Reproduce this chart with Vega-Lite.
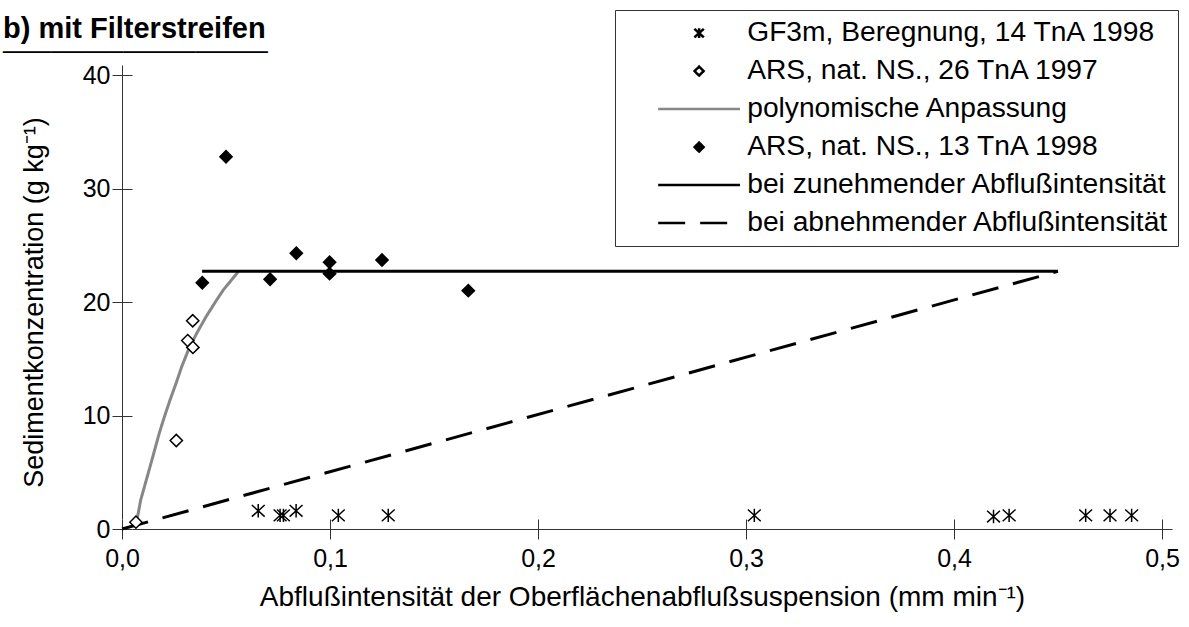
{
  "$schema": "https://vega.github.io/schema/vega-lite/v6.json",
  "width": 1040,
  "height": 454,
  "autosize": {"type": "none"},
  "padding": {"left": 122, "top": 75, "right": 27, "bottom": 98},
  "background": "white",
  "title": {
    "text": "b) mit Filterstreifen",
    "subtitle": "──────────────────────",
    "anchor": "start",
    "frame": "group",
    "dx": -119,
    "offset": -53,
    "font": "Liberation Sans",
    "fontSize": 29,
    "fontWeight": "bold",
    "color": "black",
    "subtitleFont": "DejaVu Sans",
    "subtitleFontSize": 20,
    "subtitleColor": "black",
    "subtitlePadding": -1
  },
  "config": {
    "view": {"stroke": null},
    "font": "Liberation Sans",
    "axis": {
      "domain": false,
      "grid": true,
      "gridColor": "#333333",
      "gridWidth": 1,
      "offset": -10,
      "ticks": true,
      "tickSize": 20,
      "tickColor": "#333333",
      "tickWidth": 1,
      "labelFont": "Liberation Sans",
      "labelFontSize": 25,
      "labelColor": "black",
      "labelFlush": false,
      "labelOverlap": false,
      "titleFont": "Liberation Sans",
      "titleFontWeight": "normal",
      "titleColor": "black"
    }
  },
  "datasets": {
    "curves": [
      {"series": "polynomische Anpassung", "x": 0.007, "y": 0.6},
      {"series": "polynomische Anpassung", "x": 0.009, "y": 2.56},
      {"series": "polynomische Anpassung", "x": 0.0135, "y": 5.5},
      {"series": "polynomische Anpassung", "x": 0.0179, "y": 8.43},
      {"series": "polynomische Anpassung", "x": 0.0204, "y": 9.9},
      {"series": "polynomische Anpassung", "x": 0.0231, "y": 11.37},
      {"series": "polynomische Anpassung", "x": 0.026, "y": 12.84},
      {"series": "polynomische Anpassung", "x": 0.0287, "y": 14.3},
      {"series": "polynomische Anpassung", "x": 0.0319, "y": 15.77},
      {"series": "polynomische Anpassung", "x": 0.0359, "y": 17.24},
      {"series": "polynomische Anpassung", "x": 0.0404, "y": 18.7},
      {"series": "polynomische Anpassung", "x": 0.0455, "y": 20.18},
      {"series": "polynomische Anpassung", "x": 0.0487, "y": 21.06},
      {"series": "polynomische Anpassung", "x": 0.0559, "y": 22.67},
      {"series": "bei zunehmender Abflußintensität", "x": 0.0385, "y": 22.7},
      {"series": "bei zunehmender Abflußintensität", "x": 0.45, "y": 22.7},
      {"series": "bei abnehmender Abflußintensität", "x": 0.0, "y": 0.0},
      {"series": "bei abnehmender Abflußintensität", "x": 0.45, "y": 22.7}
    ],
    "measured": [
      {"series": "GF3m, Beregnung, 14  TnA 1998", "x": 0.0655, "y": 1.6},
      {"series": "GF3m, Beregnung, 14  TnA 1998", "x": 0.076, "y": 1.2},
      {"series": "GF3m, Beregnung, 14  TnA 1998", "x": 0.0776, "y": 1.2},
      {"series": "GF3m, Beregnung, 14  TnA 1998", "x": 0.0837, "y": 1.6},
      {"series": "GF3m, Beregnung, 14  TnA 1998", "x": 0.104, "y": 1.2},
      {"series": "GF3m, Beregnung, 14  TnA 1998", "x": 0.128, "y": 1.2},
      {"series": "GF3m, Beregnung, 14  TnA 1998", "x": 0.304, "y": 1.2},
      {"series": "GF3m, Beregnung, 14  TnA 1998", "x": 0.419, "y": 1.1},
      {"series": "GF3m, Beregnung, 14  TnA 1998", "x": 0.4265, "y": 1.2},
      {"series": "GF3m, Beregnung, 14  TnA 1998", "x": 0.4633, "y": 1.2},
      {"series": "GF3m, Beregnung, 14  TnA 1998", "x": 0.475, "y": 1.2},
      {"series": "GF3m, Beregnung, 14  TnA 1998", "x": 0.4854, "y": 1.2},
      {"series": "ARS, nat. NS., 26 TnA 1997", "x": 0.0067, "y": 0.6},
      {"series": "ARS, nat. NS., 26 TnA 1997", "x": 0.0261, "y": 7.8},
      {"series": "ARS, nat. NS., 26 TnA 1997", "x": 0.0316, "y": 16.6},
      {"series": "ARS, nat. NS., 26 TnA 1997", "x": 0.0341, "y": 16.0},
      {"series": "ARS, nat. NS., 26 TnA 1997", "x": 0.034, "y": 18.35},
      {"series": "ARS, nat. NS., 13 TnA 1998", "x": 0.0386, "y": 21.7},
      {"series": "ARS, nat. NS., 13 TnA 1998", "x": 0.05, "y": 32.8},
      {"series": "ARS, nat. NS., 13 TnA 1998", "x": 0.0712, "y": 22.0},
      {"series": "ARS, nat. NS., 13 TnA 1998", "x": 0.0838, "y": 24.3},
      {"series": "ARS, nat. NS., 13 TnA 1998", "x": 0.0998, "y": 23.5},
      {"series": "ARS, nat. NS., 13 TnA 1998", "x": 0.0998, "y": 22.5},
      {"series": "ARS, nat. NS., 13 TnA 1998", "x": 0.125, "y": 23.7},
      {"series": "ARS, nat. NS., 13 TnA 1998", "x": 0.1665, "y": 21.0}
    ]
  },
  "layer": [
    {
      "data": {"name": "curves"},
      "mark": {"type": "line", "strokeCap": "butt", "strokeWidth": 3},
      "encoding": {
        "x": {
          "field": "x",
          "type": "quantitative",
          "scale": {"domain": [0, 0.5], "nice": false, "zero": false},
          "axis": {
            "values": [0, 0.1, 0.2, 0.3, 0.4, 0.5],
            "labelExpr": "replace(format(datum.value, '.1f'), '.', ',')",
            "labelPadding": 7,
            "gridOpacity": {"condition": {"test": "datum.value === 0", "value": 1}, "value": 0},
            "title": "Abflußintensität der Oberflächenabflußsuspension (mm min⁻¹)",
            "titleFontSize": 28,
            "titlePadding": 12
          }
        },
        "y": {
          "field": "y",
          "type": "quantitative",
          "scale": {"domain": [0, 40], "nice": false},
          "axis": {
            "values": [0, 10, 20, 30, 40],
            "labelPadding": 2,
            "gridOpacity": {"condition": {"test": "datum.value === 0", "value": 1}, "value": 0},
            "title": "Sedimentkonzentration (g kg⁻¹)",
            "titleFontSize": 27,
            "titlePadding": 34
          }
        },
        "stroke": {
          "field": "series",
          "type": "nominal",
          "scale": {
            "domain": ["GF3m, Beregnung, 14  TnA 1998", "ARS, nat. NS., 26 TnA 1997", "polynomische Anpassung", "ARS, nat. NS., 13 TnA 1998", "bei zunehmender Abflußintensität", "bei abnehmender Abflußintensität"],
            "range": ["black", "black", "#878787", "black", "black", "black"]
          },
          "legend": {
            "title": null,
            "orient": "none",
            "legendX": 493,
            "legendY": -65,
            "padding": 9,
            "fillColor": "white",
            "strokeColor": "#333333",
            "symbolSize": 81,
            "symbolStrokeWidth": 2.5,
            "symbolOffset": 61,
            "labelOffset": 34,
            "labelFont": "Liberation Sans",
            "labelFontSize": 28.2,
            "labelColor": "black",
            "labelLimit": 0,
            "rowPadding": 9
          }
        },
        "strokeDash": {
          "field": "series",
          "type": "nominal",
          "scale": {
            "domain": ["GF3m, Beregnung, 14  TnA 1998", "ARS, nat. NS., 26 TnA 1997", "polynomische Anpassung", "ARS, nat. NS., 13 TnA 1998", "bei zunehmender Abflußintensität", "bei abnehmender Abflußintensität"],
            "range": [[1, 0], [1, 0], [1, 0], [1, 0], [1, 0], [27, 15]]
          }
        }
      }
    },
    {
      "data": {"name": "measured"},
      "mark": {"type": "point", "size": 150, "opacity": 1, "strokeWidth": 1.5},
      "encoding": {
        "x": {"field": "x", "type": "quantitative"},
        "y": {"field": "y", "type": "quantitative"},
        "shape": {
          "field": "series",
          "type": "nominal",
          "scale": {
            "domain": ["GF3m, Beregnung, 14  TnA 1998", "ARS, nat. NS., 26 TnA 1997", "polynomische Anpassung", "ARS, nat. NS., 13 TnA 1998", "bei zunehmender Abflußintensität", "bei abnehmender Abflußintensität"],
            "range": ["M-1.05,-0.95L1.05,0.95M-1.05,0.95L1.05,-0.95M0,-1.1L0,1.1", "diamond", "M-9.1,0H9.1", "diamond", "M-9.1,0H9.1", "M-9.1,0H9.1"]
          }
        },
        "fill": {
          "field": "series",
          "type": "nominal",
          "scale": {
            "domain": ["GF3m, Beregnung, 14  TnA 1998", "ARS, nat. NS., 26 TnA 1997", "polynomische Anpassung", "ARS, nat. NS., 13 TnA 1998", "bei zunehmender Abflußintensität", "bei abnehmender Abflußintensität"],
            "range": ["transparent", "white", "transparent", "black", "transparent", "transparent"]
          }
        },
        "stroke": {"field": "series", "type": "nominal"}
      }
    }
  ]
}
